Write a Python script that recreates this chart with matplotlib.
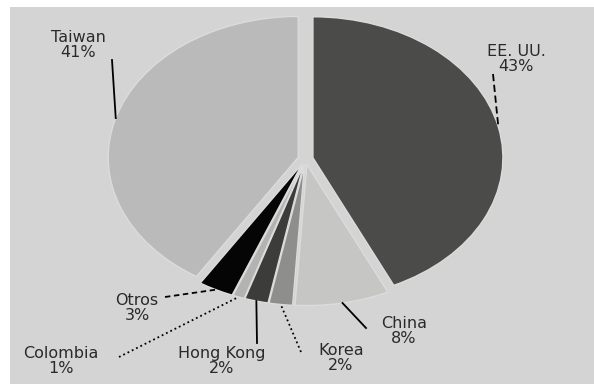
import numpy as np
import matplotlib
matplotlib.use("Agg")
import matplotlib.pyplot as plt
from matplotlib.patches import Rectangle

plt.rcParams['font.family'] = ['DejaVu Sans']

labels = ["EE. UU.", "China", "Korea", "Hong Kong", "Colombia", "Otros", "Taiwan"]
values = [43, 8, 2, 2, 1, 3, 41]
colors = ["#4b4b49", "#c6c6c4", "#8e8e8c", "#3c3c3a", "#b3b3b1", "#050505", "#bababa"]

# label block centres and leader-line start points (pixels from top-left)
label_pos = [(516, 59), (404, 331), (341, 358), (222, 361), (61, 361), (137, 308), (78, 45)]
line_start = [(493, 74), (366, 328), (301, 352), (257, 343), (119, 357), (165, 297), (112, 60)]
line_style = [(0, (4, 2)), "-", ":", "-", ":", (0, (3, 2)), "-"]

W, H = 594, 384
cx, cy, rx, ry = 305.5, 159, 190, 141
explode = 0.04

fig = plt.figure(figsize=(W / 100, H / 100), dpi=100)
fig.patch.set_facecolor("white")
fig.patches.append(Rectangle((10 / W, 0), 1 - 10 / W, 1 - 7 / H,
                             transform=fig.transFigure, facecolor="#d4d4d4",
                             edgecolor="none", zorder=-10))

ax = fig.add_axes([0, 0, 1, 1])
ax.set_facecolor("none")

wedges, _ = ax.pie(values, colors=colors, startangle=90, counterclock=False,
                   explode=[explode] * len(values),
                   wedgeprops=dict(edgecolor="#dcdcdc", linewidth=1.0))
ax.set_aspect("auto")
ax.set_xlim((0 - cx) / rx, (W - cx) / rx)
ax.set_ylim((cy - H) / ry, cy / ry)
ax.axis("off")


def to_data(px, py):
    return (px - cx) / rx, (cy - py) / ry


total = sum(values)
start = 90.0
for i, (lab, v) in enumerate(zip(labels, values)):
    sweep = 360.0 * v / total
    mid = np.deg2rad(start - sweep / 2)
    start -= sweep
    ex = (1 + explode) * np.cos(mid)
    ey = (1 + explode) * np.sin(mid)
    sx, sy = to_data(*line_start[i])
    ax.plot([sx, ex], [sy, ey], color="black", lw=1.3, linestyle=line_style[i])
    tx, ty = to_data(*label_pos[i])
    ax.text(tx, ty, f"{lab}\n{v}%", ha="center", va="center", fontsize=11.5,
            color="#2a2a2a", linespacing=1.05)

fig.savefig("out.png", dpi=100, facecolor=fig.get_facecolor())
